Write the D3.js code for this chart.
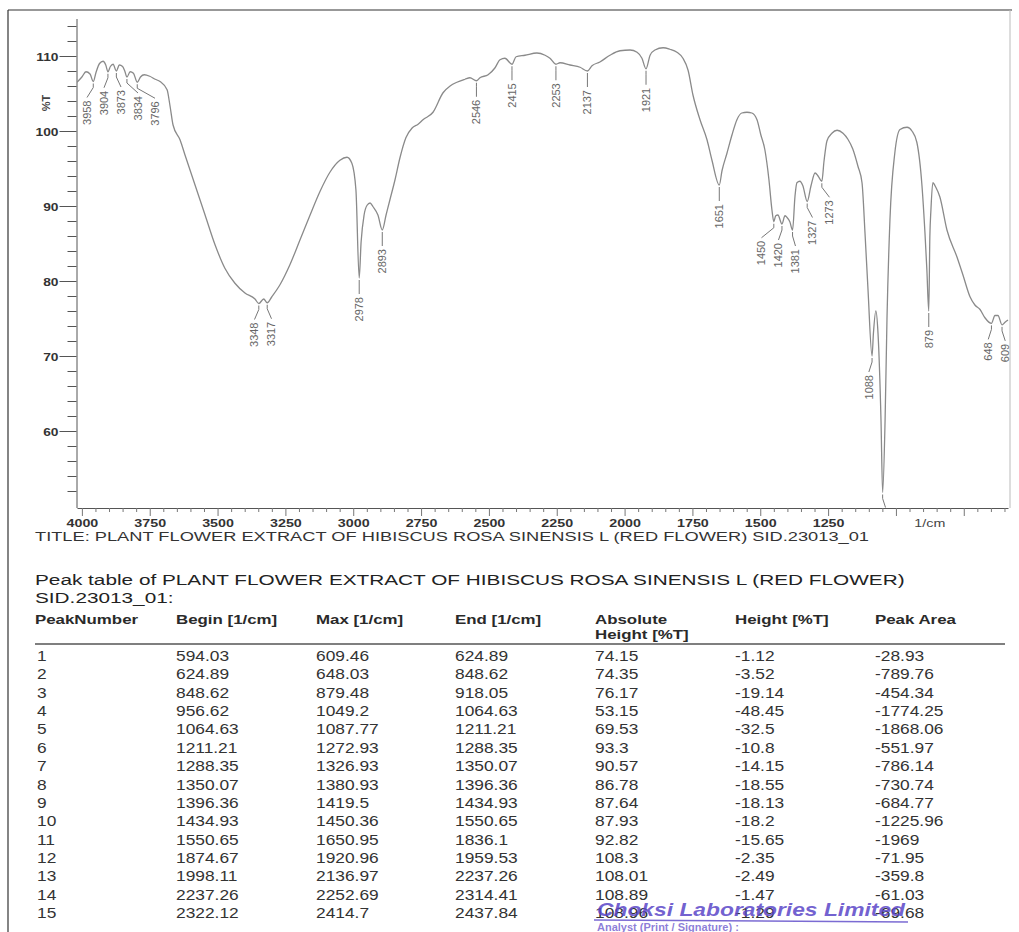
<!DOCTYPE html>
<html><head><meta charset="utf-8">
<script src="https://cdn.jsdelivr.net/npm/d3@7"></script>
<style>body{margin:0;background:#fff} svg{display:block;font-family:"Liberation Sans",Arial,sans-serif}</style>
</head><body><svg id="c" width="1019" height="932"></svg>
<script>
// ---------- DATA ----------
const wavenumber = [4018,4000,3985,3970,3958,3948,3935,3922,3912,3904,3895,3885,3873,3862,3850,3842,3834,3822,3810,3796,3784,3770,3750,3730,3712,3686,3675,3664,3638,3620,3583,3546,3509,3473,3436,3399,3362,3348,3330,3317,3300,3270,3233,3196,3159,3123,3086,3049,3023,3005,2990,2978,2971,2960,2949,2938,2927,2909,2893,2879,2865,2846,2828,2806,2783,2761,2743,2706,2669,2643,2618,2588,2570,2546,2533,2503,2478,2459,2441,2415,2400,2367,2323,2293,2275,2253,2238,2201,2164,2137,2120,2091,2054,2017,1980,1954,1936,1921,1906,1888,1858,1833,1807,1785,1766,1748,1722,1696,1678,1651,1641,1623,1604,1586,1568,1549,1531,1512,1498,1483,1468,1457,1450,1443,1435,1420,1409,1402,1391,1381,1372,1365,1354,1343,1327,1313,1298,1287,1273,1265,1254,1236,1217,1195,1177,1159,1140,1125,1114,1103,1088,1083,1074,1066,1055,1049,1040,1033,1022,1004,985,959,941,923,904,893,886,879,875,871,864,853,838,812,775,753,727,709,690,672,648,635,624,609,598,587];
const transmittance = [106.5,107.2,107.9,107.6,106.6,107.8,109.0,109.3,108.8,107.9,108.6,108.9,108.0,108.8,108.6,108.0,107.2,107.9,107.7,106.5,107.2,107.5,107.3,106.9,106.6,105.5,103.3,100.8,98.8,96.8,92.8,88.8,84.8,81.7,79.7,78.4,77.6,77.0,77.6,77.1,77.9,79.5,82.2,85.5,88.8,91.9,94.5,96.1,96.5,95.7,92.1,80.4,85.2,88.8,90.1,90.4,89.9,88.8,86.8,88.8,90.8,93.5,96.4,99.1,100.4,100.9,101.5,102.5,105.1,106.0,106.5,106.9,107.1,106.7,107.1,107.5,108.4,109.5,109.7,108.9,109.9,110.1,110.4,110.1,109.7,108.9,109.1,108.8,108.5,108.0,108.7,109.2,110.1,110.7,110.8,110.5,109.7,108.3,110.1,110.8,111.1,110.9,110.5,109.7,108.1,104.8,101.5,98.8,96.1,92.8,94.7,97.0,99.5,101.5,102.4,102.5,102.4,101.5,99.5,97.5,93.5,89.5,87.9,88.7,88.8,87.6,88.7,88.5,87.9,86.8,91.3,93.1,93.3,92.7,90.6,92.7,94.4,94.0,93.3,96.0,98.7,99.7,100.1,99.7,98.9,97.6,95.3,93.1,86.4,78.9,70.0,73.0,76.0,73.0,61.4,51.8,61.4,74.9,88.2,97.1,100.2,100.5,100.0,98.5,92.7,86.4,81.5,76.0,85.9,89.5,93.1,92.5,91.2,86.8,83.2,80.8,77.9,76.8,76.2,75.1,74.35,75.4,75.4,74.15,74.5,74.8];
const peakLabels = [3958,3904,3873,3834,3796,3348,3317,2978,2893,2546,2415,2253,2137,1921,1651,1450,1420,1381,1327,1273,1088,1049,879,648,609];
const xTickLabels = [4000,3750,3500,3250,3000,2750,2500,2250,2000,1750,1500,1250];
const yTickLabels = [60,70,80,90,100,110];

const plotTitle = "TITLE: PLANT FLOWER EXTRACT OF HIBISCUS ROSA SINENSIS L (RED FLOWER) SID.23013_01";
const tableTitle1 = "Peak table of PLANT FLOWER EXTRACT OF HIBISCUS ROSA SINENSIS L (RED FLOWER)";
const tableTitle2 = "SID.23013_01:";
const tableHeaders = [["PeakNumber"],["Begin [1/cm]"],["Max [1/cm]"],["End [1/cm]"],["Absolute","Height [%T]"],["Height [%T]"],["Peak Area"]];
const peakNumber = [1,2,3,4,5,6,7,8,9,10,11,12,13,14,15];
const beginCm = [594.03,624.89,848.62,956.62,1064.63,1211.21,1288.35,1350.07,1396.36,1434.93,1550.65,1874.67,1998.11,2237.26,2322.12];
const maxCm = [609.46,648.03,879.48,1049.2,1087.77,1272.93,1326.93,1380.93,1419.5,1450.36,1650.95,1920.96,2136.97,2252.69,2414.7];
const endCm = [624.89,848.62,918.05,1064.63,1211.21,1288.35,1350.07,1396.36,1434.93,1550.65,1836.1,1959.53,2237.26,2314.41,2437.84];
const absHeight = [74.15,74.35,76.17,53.15,69.53,93.3,90.57,86.78,87.64,87.93,92.82,108.3,108.01,108.89,108.96];
const heightT = [-1.12,-3.52,-19.14,-48.45,-32.5,-10.8,-14.15,-18.55,-18.13,-18.2,-15.65,-2.35,-2.49,-1.47,-1.29];
const peakArea = [-28.93,-789.76,-454.34,-1774.25,-1868.06,-551.97,-786.14,-730.74,-684.77,-1225.96,-1969,-71.95,-359.8,-61.03,-69.68];
const stampText = "Choksi Laboratories Limited";
const stampSub = "Analyst (Print / Signature) :";

// ---------- CHART ----------
const svg = d3.select("#c");
const x = d3.scaleLinear().domain([4018, 587]).range([77, 1008]);
const y = d3.scaleLinear().domain([49.8, 115]).range([507.5, 18.5]);

// page frame
svg.append("line").attr("x1",8).attr("x2",8).attr("y1",10).attr("y2",932).attr("stroke","#333").attr("stroke-width",1.2);
svg.append("line").attr("x1",8).attr("x2",1012).attr("y1",10).attr("y2",10).attr("stroke","#333").attr("stroke-width",1.2);
svg.append("line").attr("x1",1010).attr("x2",1010).attr("y1",10).attr("y2",508).attr("stroke","#bbb").attr("stroke-width",1);

// y axis
const yTicks = d3.range(52, 115, 2);
const gy = svg.append("g").attr("transform","translate(76.5,0)")
  .call(d3.axisLeft(y).tickValues(yTicks).tickSize(9).tickSizeOuter(0)
    .tickFormat(d => yTickLabels.includes(d) ? d : ""));
gy.select(".domain").attr("stroke","#555");
gy.selectAll(".tick line").attr("stroke","#555").attr("x2", d => yTickLabels.includes(d) ? -17 : -9);
gy.selectAll(".tick text").attr("x",0).attr("dy",0)
  .attr("transform","translate(-18,4) scale(1.25,1)")
  .attr("font-size",11).attr("font-weight","bold").attr("fill","#333")
  .attr("font-family","Liberation Sans, Arial, sans-serif");
svg.append("text").attr("transform","translate(50,103) rotate(-90) scale(1.1,1)")
  .attr("text-anchor","middle").attr("font-size",10).attr("font-weight","bold").attr("fill","#444").text("%T");

// x axis
const xTicks = d3.range(4000, 599, -50);
const gx = svg.append("g").attr("transform","translate(0,508)")
  .call(d3.axisBottom(x).tickValues(xTicks).tickSize(4).tickSizeOuter(0)
    .tickFormat(d => xTickLabels.includes(d) ? d : ""));
gx.select(".domain").attr("stroke","#555");
gx.selectAll(".tick line").attr("stroke","#777").attr("y2", d => d % 250 === 0 ? 8 : 4);
gx.selectAll(".tick text").attr("y",0).attr("dy",0)
  .attr("transform","translate(0,19) scale(1.3,1)")
  .attr("font-size",11).attr("font-weight","bold").attr("fill","#333")
  .attr("font-family","Liberation Sans, Arial, sans-serif");
svg.append("text").attr("transform",`translate(${x(875)},527) scale(1.3,1)`)
  .attr("text-anchor","middle").attr("font-size",11).attr("fill","#444").text("1/cm");

svg.append("text").attr("x",35).attr("y",541).attr("font-size",12.5).attr("fill","#333")
  .attr("textLength",834).attr("lengthAdjust","spacingAndGlyphs").text(plotTitle);

// clip
svg.append("clipPath").attr("id","pc").append("rect").attr("x",77).attr("y",10).attr("width",933).attr("height",497.5);
const plot = svg.append("g").attr("clip-path","url(#pc)");

const pts = wavenumber.map((w,i)=>[w, transmittance[i]]);
plot.append("path").datum(pts)
  .attr("d", d3.line().x(d=>x(d[0])).y(d=>y(d[1])).curve(d3.curveMonotoneX))
  .attr("fill","none").attr("stroke","#8a8a8a").attr("stroke-width",1.3);

// peak labels (spread apart so they don't overlap)
const items = peakLabels.map(w => {
  const i = wavenumber.indexOf(w);
  return {w, x: x(w), y: y(transmittance[i])};
}).sort((a,b)=>a.x-b.x);
const gap = 17;
const minLx = x.range()[0] + 10;
const groups = [];
items.forEach(it => {
  groups.push({m:[it], sum: it.x});
  while (groups.length > 1) {
    const a = groups[groups.length-2], b = groups[groups.length-1];
    const aStart = a.sum/a.m.length - (a.m.length-1)*gap/2;
    const aEnd = aStart + (a.m.length-1)*gap;
    const bStart = b.sum/b.m.length - (b.m.length-1)*gap/2;
    if (bStart - aEnd < gap) { a.m = a.m.concat(b.m); a.sum += b.sum; groups.pop(); } else break;
  }
});
groups.forEach(g => {
  let s = g.sum/g.m.length - (g.m.length-1)*gap/2;
  if (s < minLx) s = minLx;
  g.m.forEach((it,i)=> it.lx = s + i*gap);
});

const lab = plot.selectAll("g.pk").data(items).join("g").attr("class","pk");
lab.append("path").attr("d", d => `M${d.x},${d.y+2}L${d.x},${d.y+6}L${d.lx},${d.y+16}`)
  .attr("fill","none").attr("stroke","#777").attr("stroke-width",1);
lab.append("text").attr("transform", d => `translate(${d.lx},${d.y+19}) rotate(-90)`)
  .attr("text-anchor","end").attr("dy","0.35em").attr("font-size",11).attr("fill","#666")
  .text(d => d.w);

// ---------- TABLE ----------
const t1 = svg.append("text").attr("font-size",15).attr("fill","#222").text(tableTitle1);
const w1 = t1.node().getComputedTextLength();
const sT = 870 / w1;
t1.attr("transform",`translate(35,585) scale(${sT},1)`);
svg.append("text").attr("font-size",15).attr("fill","#222").attr("transform",`translate(35,603) scale(${sT},1)`).text(tableTitle2);

const colX = [35,176,316,455,595,735,875];
tableHeaders.forEach((lines,c) => {
  lines.forEach((s,k) => {
    svg.append("text").attr("transform",`translate(${colX[c]},${624+k*15}) scale(1.25,1)`)
      .attr("font-size",13.5).attr("font-weight","bold").attr("fill","#2a2a2a").text(s);
  });
});
svg.append("line").attr("x1",35).attr("x2",1005).attr("y1",644).attr("y2",644).attr("stroke","#555").attr("stroke-width",1.3);

const cols = [peakNumber, beginCm, maxCm, endCm, absHeight, heightT, peakArea];
peakNumber.forEach((n,r) => {
  cols.forEach((col,c) => {
    svg.append("text").attr("transform",`translate(${c===0?37:colX[c]},${661 + r*18.36}) scale(1.24,1)`)
      .attr("font-size",14).attr("fill","#333").text(col[r]);
  });
});

// stamp (overprinted on the last rows, as in the scan)
svg.append("text").attr("x",597).attr("y",916).attr("font-size",19).attr("font-weight","bold")
  .attr("font-style","italic").attr("fill","#5a46c8").attr("fill-opacity",0.85)
  .attr("textLength",308).attr("lengthAdjust","spacingAndGlyphs").text(stampText);
svg.append("line").attr("x1",594).attr("x2",908).attr("y1",920).attr("y2",922).attr("stroke","#5a46c8").attr("stroke-opacity",0.8).attr("stroke-width",1.5);
svg.append("text").attr("x",597).attr("y",931).attr("font-size",11).attr("font-weight","bold")
  .attr("fill","#5a46c8").attr("fill-opacity",0.7).text(stampSub);
</script></body></html>
